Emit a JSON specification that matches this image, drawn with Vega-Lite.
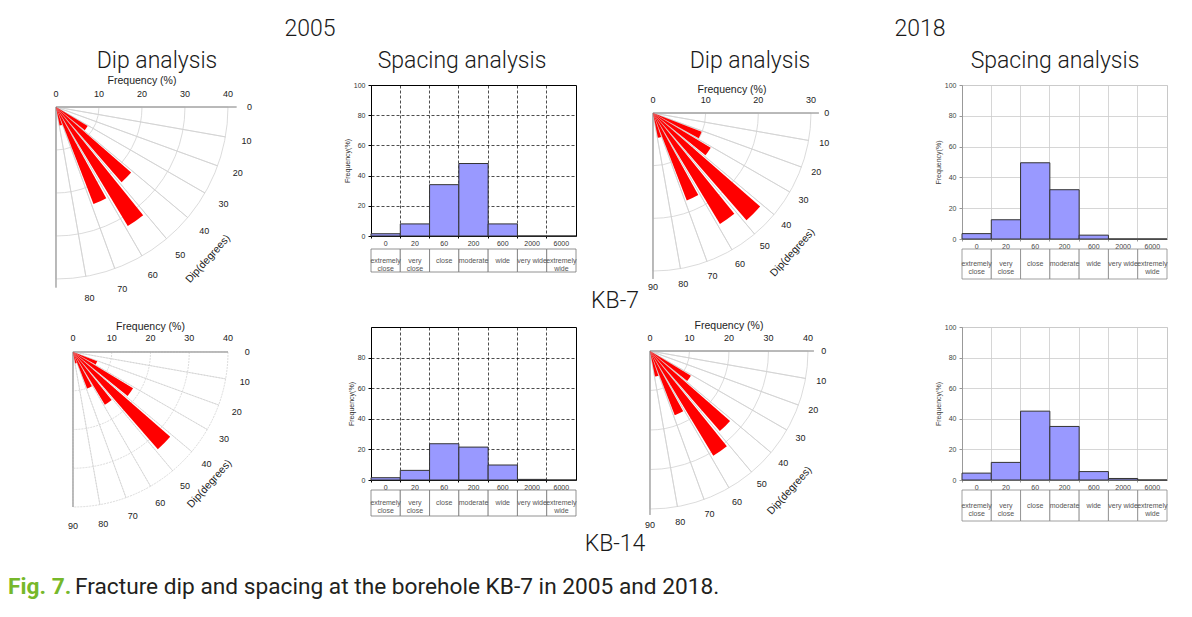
{
  "$schema": "https://vega.github.io/schema/vega-lite/v6.json",
  "padding": {"left": 8, "top": 18, "right": 0, "bottom": 0},
  "background": "white",
  "config": {
    "view": {"stroke": null},
    "text": {"font": "Liberation Sans"}
  },
  "datasets": {
    "dip05a": [
      {"dip_from": 30, "dip_to": 40, "freq": 8.6},
      {"dip_from": 40, "dip_to": 50, "freq": 23.2},
      {"dip_from": 50, "dip_to": 60, "freq": 32.3},
      {"dip_from": 60, "dip_to": 70, "freq": 24.2},
      {"dip_from": 70, "dip_to": 80, "freq": 4.4}
    ],
    "dip18a": [
      {"dip_from": 20, "dip_to": 30, "freq": 9.9},
      {"dip_from": 30, "dip_to": 40, "freq": 12.8},
      {"dip_from": 40, "dip_to": 50, "freq": 27.0},
      {"dip_from": 50, "dip_to": 60, "freq": 24.6},
      {"dip_from": 60, "dip_to": 70, "freq": 17.8},
      {"dip_from": 70, "dip_to": 80, "freq": 4.8}
    ],
    "dip05b": [
      {"dip_from": 20, "dip_to": 30, "freq": 6.7},
      {"dip_from": 30, "dip_to": 40, "freq": 18.1},
      {"dip_from": 40, "dip_to": 50, "freq": 33.3},
      {"dip_from": 50, "dip_to": 60, "freq": 15.9},
      {"dip_from": 60, "dip_to": 70, "freq": 10.1},
      {"dip_from": 70, "dip_to": 80, "freq": 3.0}
    ],
    "dip18b": [
      {"dip_from": 30, "dip_to": 40, "freq": 12.1},
      {"dip_from": 40, "dip_to": 50, "freq": 26.9},
      {"dip_from": 50, "dip_to": 60, "freq": 31.0},
      {"dip_from": 60, "dip_to": 70, "freq": 17.4},
      {"dip_from": 70, "dip_to": 80, "freq": 6.6}
    ],
    "sp05a": [
      {"class": "extremely close", "label": "extremely\nclose", "freq": 1.5},
      {"class": "very close", "label": "very\nclose", "freq": 8},
      {"class": "close", "label": "close", "freq": 34},
      {"class": "moderate", "label": "moderate", "freq": 48},
      {"class": "wide", "label": "wide", "freq": 8},
      {"class": "very wide", "label": "very wide", "freq": 0},
      {"class": "extremely wide", "label": "extremely\nwide", "freq": 0}
    ],
    "sp18a": [
      {"class": "extremely close", "label": "extremely\nclose", "freq": 3.5},
      {"class": "very close", "label": "very\nclose", "freq": 12.5},
      {"class": "close", "label": "close", "freq": 49.5},
      {"class": "moderate", "label": "moderate", "freq": 32},
      {"class": "wide", "label": "wide", "freq": 2.5},
      {"class": "very wide", "label": "very wide", "freq": 0},
      {"class": "extremely wide", "label": "extremely\nwide", "freq": 0}
    ],
    "sp05b": [
      {"class": "extremely close", "label": "extremely\nclose", "freq": 1.5},
      {"class": "very close", "label": "very\nclose", "freq": 6.3},
      {"class": "close", "label": "close", "freq": 23.7},
      {"class": "moderate", "label": "moderate", "freq": 21.5},
      {"class": "wide", "label": "wide", "freq": 9.8},
      {"class": "very wide", "label": "very wide", "freq": 0.4},
      {"class": "extremely wide", "label": "extremely\nwide", "freq": 0}
    ],
    "sp18b": [
      {"class": "extremely close", "label": "extremely\nclose", "freq": 4.5},
      {"class": "very close", "label": "very\nclose", "freq": 11.5},
      {"class": "close", "label": "close", "freq": 45},
      {"class": "moderate", "label": "moderate", "freq": 35},
      {"class": "wide", "label": "wide", "freq": 5.5},
      {"class": "very wide", "label": "very wide", "freq": 1},
      {"class": "extremely wide", "label": "extremely\nwide", "freq": 0}
    ],
    "rings40": [{"r": 10}, {"r": 20}, {"r": 30}, {"r": 40}],
    "rings30": [{"r": 10}, {"r": 20}, {"r": 30}],
    "ticks40": [{"r": 0}, {"r": 10}, {"r": 20}, {"r": 30}, {"r": 40}],
    "ticks30": [{"r": 0}, {"r": 10}, {"r": 20}, {"r": 30}],
    "radials": [{"d": 10}, {"d": 20}, {"d": 30}, {"d": 40}, {"d": 50}, {"d": 60}, {"d": 70}, {"d": 80}],
    "axeslines": [{"d": 0}, {"d": 90}],
    "diplabels": [{"d": 0}, {"d": 10}, {"d": 20}, {"d": 30}, {"d": 40}, {"d": 50}, {"d": 60}, {"d": 70}, {"d": 80}, {"d": 90}],
    "diplabels80": [{"d": 0}, {"d": 10}, {"d": 20}, {"d": 30}, {"d": 40}, {"d": 50}, {"d": 60}, {"d": 70}, {"d": 80}],
    "freqtitle": [{"t": "Frequency (%)"}],
    "diptitle": [{"t": "Dip(degrees)"}]
  },
  "bounds": "flush",
  "columns": 4,
  "spacing": {"row": 10, "column": 10},
  "concat": [
    {
      "width": 353, "height": 154,
      "encoding": {
        "x": {"datum": 0, "type": "quantitative", "scale": {"domain": [-11.16, 70.93], "nice": false, "zero": false}, "axis": null},
        "y": {"datum": 0, "type": "quantitative", "scale": {"domain": [-5.12, 30.70], "nice": false, "zero": false, "reverse": true}, "axis": null}
      },
      "layer": [
        {"data": {"name": "rings40"}, "mark": {"type": "arc", "filled": false, "stroke": "#d2d2d2", "strokeWidth": 0.8},
         "encoding": {"theta": {"datum": 0, "type": "quantitative", "scale": {"domain": [0, 90], "range": [1.5707963, 3.1415927]}}, "theta2": {"datum": 90},
           "radius": {"field": "r", "type": "quantitative", "scale": {"type": "linear", "domain": [0, 40], "range": [0, 172], "nice": false}}, "radius2": {"datum": 0}}},
        {"data": {"name": "radials"}, "mark": {"type": "arc", "filled": false, "stroke": "#d2d2d2", "strokeWidth": 0.8},
         "encoding": {"theta": {"field": "d", "type": "quantitative", "stack": null, "scale": {"domain": [0, 90], "range": [1.5707963, 3.1415927]}}, "theta2": {"field": "d"},
           "radius": {"datum": 40, "type": "quantitative", "scale": {"type": "linear", "domain": [0, 40], "range": [0, 172], "nice": false}}, "radius2": {"datum": 0}}},
        {"data": {"name": "axeslines"}, "mark": {"type": "arc", "filled": false, "stroke": "#a8a8a8", "strokeWidth": 1},
         "encoding": {"theta": {"field": "d", "type": "quantitative", "stack": null, "scale": {"domain": [0, 90], "range": [1.5707963, 3.1415927]}}, "theta2": {"field": "d"},
           "radius": {"datum": 42, "type": "quantitative", "scale": {"type": "linear", "domain": [0, 40], "range": [0, 172], "nice": false}}, "radius2": {"datum": 0}}},
        {"data": {"name": "dip05a"}, "mark": {"type": "arc", "color": "#ff0000", "padAngle": 0.039},
         "encoding": {"theta": {"field": "dip_from", "type": "quantitative", "stack": null, "scale": {"domain": [0, 90], "range": [1.5707963, 3.1415927]}}, "theta2": {"field": "dip_to"},
           "radius": {"field": "freq", "type": "quantitative", "scale": {"type": "linear", "domain": [0, 40], "range": [0, 172], "nice": false}}, "radius2": {"datum": 0}}},
        {"data": {"name": "ticks40"}, "mark": {"type": "text", "dy": -13, "fontSize": 9, "color": "#222"},
         "encoding": {"theta": {"datum": 0, "type": "quantitative", "scale": {"domain": [0, 90], "range": [1.5707963, 3.1415927]}},
           "radius": {"field": "r", "type": "quantitative", "scale": {"type": "linear", "domain": [0, 40], "range": [0, 172], "nice": false}}, "text": {"field": "r", "type": "quantitative"}}},
        {"data": {"name": "freqtitle"}, "mark": {"type": "text", "dy": -26, "fontSize": 10.5, "color": "#222"},
         "encoding": {"theta": {"datum": 0, "type": "quantitative", "scale": {"domain": [0, 90], "range": [1.5707963, 3.1415927]}},
           "radius": {"datum": 20, "type": "quantitative", "scale": {"type": "linear", "domain": [0, 40], "range": [0, 172], "nice": false}}, "text": {"field": "t"}}},
        {"data": {"name": "diplabels80"}, "mark": {"type": "text", "fontSize": 9, "color": "#222"},
         "encoding": {"theta": {"field": "d", "type": "quantitative", "scale": {"domain": [0, 90], "range": [1.5707963, 3.1415927]}},
           "radius": {"datum": 45, "type": "quantitative", "scale": {"type": "linear", "domain": [0, 40], "range": [0, 172], "nice": false}}, "text": {"field": "d", "type": "quantitative"}}},
        {"data": {"name": "diptitle"}, "mark": {"type": "text", "fontSize": 10.5, "angle": -48, "color": "#222"},
         "encoding": {"theta": {"datum": 45, "type": "quantitative", "scale": {"domain": [0, 90], "range": [1.5707963, 3.1415927]}},
           "radius": {"datum": 50, "type": "quantitative", "scale": {"type": "linear", "domain": [0, 40], "range": [0, 172], "nice": false}}, "text": {"field": "t"}}},
        {"data": {"values": [{"t": "2005"}]}, "mark": {"type": "text", "font": "Roboto", "fontWeight": 300, "fontSize": 23, "color": "#1a1a1a", "baseline": "middle"},
         "encoding": {"text": {"field": "t"}, "x": {"datum": 59.07}, "y": {"datum": -18.14}}},
        {"data": {"values": [{"t": "Dip analysis"}]}, "mark": {"type": "text", "font": "Roboto", "fontWeight": 300, "fontSize": 23, "color": "#1a1a1a", "baseline": "middle"},
         "encoding": {"text": {"field": "t"}, "x": {"datum": 23.49}, "y": {"datum": -10.7}}},
        {"data": {"values": [{"t": "Spacing analysis"}]}, "mark": {"type": "text", "font": "Roboto", "fontWeight": 300, "fontSize": 23, "color": "#1a1a1a", "baseline": "middle"},
         "encoding": {"text": {"field": "t"}, "x": {"datum": 94.42}, "y": {"datum": -10.7}}}
      ]
    },
    {
      "width": 205, "height": 151,
      "view": {"stroke": "#000", "strokeWidth": 1},
      "data": {"name": "sp05a"},
      "mark": {"type": "bar", "fill": "#9999ff", "stroke": "#333", "strokeWidth": 1},
      "encoding": {
        "x": {"field": "class", "type": "nominal", "scale": {"domain": ["extremely close", "very close", "close", "moderate", "wide", "very wide", "extremely wide"], "paddingInner": 0, "paddingOuter": 0},
          "axis": {"bandPosition": 0, "labelExpr": "['0','20','60','200','600','2000','6000'][indexof(['extremely close','very close','close','moderate','wide','very wide','extremely wide'], datum.value)]", "labelAngle": 0, "labelFontSize": 7, "labelColor": "#333", "labelFont": "Liberation Sans", "labelPadding": 1, "tickSize": 2, "tickColor": "#000", "domain": false, "grid": true, "gridColor": "#000", "gridDash": [3, 2], "gridWidth": 0.7, "title": null}},
        "y": {"field": "freq", "type": "quantitative", "scale": {"domain": [0, 100], "nice": false},
          "axis": {"values": [0, 20, 40, 60, 80, 100], "labelFontSize": 7, "labelColor": "#333", "labelFont": "Liberation Sans", "labelPadding": 3, "tickSize": 3, "tickColor": "#000", "domain": false, "grid": true, "gridColor": "#000", "gridDash": [3, 2], "gridWidth": 0.7, "title": "Frequency(%)", "titleFontSize": 7, "titleFontWeight": "normal", "titleColor": "#333", "titleFont": "Liberation Sans", "titlePadding": 3}}
      }
    },
    {
      "width": 366, "height": 154,
      "encoding": {
        "x": {"datum": 0, "type": "quantitative", "scale": {"domain": [-12.72, 56.77], "nice": false, "zero": false}, "axis": null},
        "y": {"datum": 0, "type": "quantitative", "scale": {"domain": [-5.32, 23.92], "nice": false, "zero": false, "reverse": true}, "axis": null}
      },
      "layer": [
        {"data": {"name": "rings30"}, "mark": {"type": "arc", "filled": false, "stroke": "#d2d2d2", "strokeWidth": 0.8},
         "encoding": {"theta": {"datum": 0, "type": "quantitative", "scale": {"domain": [0, 90], "range": [1.5707963, 3.1415927]}}, "theta2": {"datum": 90},
           "radius": {"field": "r", "type": "quantitative", "scale": {"type": "linear", "domain": [0, 30], "range": [0, 158], "nice": false}}, "radius2": {"datum": 0}}},
        {"data": {"name": "radials"}, "mark": {"type": "arc", "filled": false, "stroke": "#d2d2d2", "strokeWidth": 0.8},
         "encoding": {"theta": {"field": "d", "type": "quantitative", "stack": null, "scale": {"domain": [0, 90], "range": [1.5707963, 3.1415927]}}, "theta2": {"field": "d"},
           "radius": {"datum": 30, "type": "quantitative", "scale": {"type": "linear", "domain": [0, 30], "range": [0, 158], "nice": false}}, "radius2": {"datum": 0}}},
        {"data": {"name": "axeslines"}, "mark": {"type": "arc", "filled": false, "stroke": "#a8a8a8", "strokeWidth": 1},
         "encoding": {"theta": {"field": "d", "type": "quantitative", "stack": null, "scale": {"domain": [0, 90], "range": [1.5707963, 3.1415927]}}, "theta2": {"field": "d"},
           "radius": {"datum": 31.5, "type": "quantitative", "scale": {"type": "linear", "domain": [0, 30], "range": [0, 158], "nice": false}}, "radius2": {"datum": 0}}},
        {"data": {"name": "dip18a"}, "mark": {"type": "arc", "color": "#ff0000", "padAngle": 0.039},
         "encoding": {"theta": {"field": "dip_from", "type": "quantitative", "stack": null, "scale": {"domain": [0, 90], "range": [1.5707963, 3.1415927]}}, "theta2": {"field": "dip_to"},
           "radius": {"field": "freq", "type": "quantitative", "scale": {"type": "linear", "domain": [0, 30], "range": [0, 158], "nice": false}}, "radius2": {"datum": 0}}},
        {"data": {"name": "ticks30"}, "mark": {"type": "text", "dy": -13, "fontSize": 9, "color": "#222"},
         "encoding": {"theta": {"datum": 0, "type": "quantitative", "scale": {"domain": [0, 90], "range": [1.5707963, 3.1415927]}},
           "radius": {"field": "r", "type": "quantitative", "scale": {"type": "linear", "domain": [0, 30], "range": [0, 158], "nice": false}}, "text": {"field": "r", "type": "quantitative"}}},
        {"data": {"name": "freqtitle"}, "mark": {"type": "text", "dy": -23, "fontSize": 10.5, "color": "#222"},
         "encoding": {"theta": {"datum": 0, "type": "quantitative", "scale": {"domain": [0, 90], "range": [1.5707963, 3.1415927]}},
           "radius": {"datum": 15, "type": "quantitative", "scale": {"type": "linear", "domain": [0, 30], "range": [0, 158], "nice": false}}, "text": {"field": "t"}}},
        {"data": {"name": "diplabels"}, "mark": {"type": "text", "fontSize": 9, "color": "#222"},
         "encoding": {"theta": {"field": "d", "type": "quantitative", "scale": {"domain": [0, 90], "range": [1.5707963, 3.1415927]}},
           "radius": {"datum": 33, "type": "quantitative", "scale": {"type": "linear", "domain": [0, 30], "range": [0, 158], "nice": false}}, "text": {"field": "d", "type": "quantitative"}}},
        {"data": {"name": "diptitle"}, "mark": {"type": "text", "fontSize": 10.5, "angle": -48, "color": "#222"},
         "encoding": {"theta": {"datum": 45, "type": "quantitative", "scale": {"domain": [0, 90], "range": [1.5707963, 3.1415927]}},
           "radius": {"datum": 37.5, "type": "quantitative", "scale": {"type": "linear", "domain": [0, 30], "range": [0, 158], "nice": false}}, "text": {"field": "t"}}},
        {"data": {"values": [{"t": "2018"}]}, "mark": {"type": "text", "font": "Roboto", "fontWeight": 300, "fontSize": 23, "color": "#1a1a1a", "baseline": "middle"},
         "encoding": {"text": {"field": "t"}, "x": {"datum": 50.69}, "y": {"datum": -15.95}}},
        {"data": {"values": [{"t": "Dip analysis"}]}, "mark": {"type": "text", "font": "Roboto", "fontWeight": 300, "fontSize": 23, "color": "#1a1a1a", "baseline": "middle"},
         "encoding": {"text": {"field": "t"}, "x": {"datum": 18.42}, "y": {"datum": -9.87}}},
        {"data": {"values": [{"t": "Spacing analysis"}]}, "mark": {"type": "text", "font": "Roboto", "fontWeight": 300, "fontSize": 23, "color": "#1a1a1a", "baseline": "middle"},
         "encoding": {"text": {"field": "t"}, "x": {"datum": 76.32}, "y": {"datum": -9.87}}},
        {"data": {"values": [{"t": "KB-7"}]}, "mark": {"type": "text", "font": "Roboto", "fontWeight": 300, "fontSize": 23, "color": "#1a1a1a", "baseline": "middle"},
         "encoding": {"text": {"field": "t"}, "x": {"datum": -7.21}, "y": {"datum": 35.69}}}
      ]
    },
    {
      "width": 205, "height": 154,
      "view": {"stroke": "#c8c8c8", "strokeWidth": 1},
      "data": {"name": "sp18a"},
      "mark": {"type": "bar", "fill": "#9999ff", "stroke": "#333", "strokeWidth": 1},
      "encoding": {
        "x": {"field": "class", "type": "nominal", "scale": {"domain": ["extremely close", "very close", "close", "moderate", "wide", "very wide", "extremely wide"], "paddingInner": 0, "paddingOuter": 0},
          "axis": {"bandPosition": 0, "labelExpr": "['0','20','60','200','600','2000','6000'][indexof(['extremely close','very close','close','moderate','wide','very wide','extremely wide'], datum.value)]", "labelAngle": 0, "labelFontSize": 7, "labelColor": "#444", "labelFont": "Liberation Sans", "labelPadding": 1, "tickSize": 2, "tickColor": "#999", "domain": true, "domainColor": "#999", "grid": true, "gridColor": "#cccccc", "gridWidth": 0.8, "title": null}},
        "y": {"field": "freq", "type": "quantitative", "scale": {"domain": [0, 100], "nice": false},
          "axis": {"values": [0, 20, 40, 60, 80, 100], "labelFontSize": 7, "labelColor": "#444", "labelFont": "Liberation Sans", "labelPadding": 3, "tickSize": 3, "tickColor": "#999", "domain": true, "domainColor": "#999", "grid": true, "gridColor": "#cccccc", "gridWidth": 0.8, "title": "Frequency(%)", "titleFontSize": 7, "titleFontWeight": "normal", "titleColor": "#444", "titleFont": "Liberation Sans", "titlePadding": 3}}
      }
    },
    {"width": 353, "height": 68, "data": {"values": []}, "mark": "text"},
    {
      "width": 205, "height": 23,
      "data": {"name": "sp05a"},
      "layer": [
        {"mark": {"type": "rect", "fill": "white", "stroke": "#777", "strokeWidth": 0.8},
         "encoding": {"x": {"field": "class", "type": "nominal", "scale": {"domain": ["extremely close", "very close", "close", "moderate", "wide", "very wide", "extremely wide"], "paddingInner": 0, "paddingOuter": 0}, "axis": null}}},
        {"mark": {"type": "text", "fontSize": 7, "color": "#555", "lineBreak": "\n", "lineHeight": 8},
         "encoding": {"x": {"field": "class", "type": "nominal", "axis": null}, "text": {"field": "label"}}}
      ]
    },
    {"width": 366, "height": 68, "data": {"values": []}, "mark": "text"},
    {
      "width": 205, "height": 30,
      "data": {"name": "sp18a"},
      "layer": [
        {"mark": {"type": "rect", "fill": "white", "stroke": "#888", "strokeWidth": 0.8},
         "encoding": {"x": {"field": "class", "type": "nominal", "scale": {"domain": ["extremely close", "very close", "close", "moderate", "wide", "very wide", "extremely wide"], "paddingInner": 0, "paddingOuter": 0}, "axis": null}}},
        {"mark": {"type": "text", "fontSize": 7, "color": "#555", "lineBreak": "\n", "lineHeight": 8},
         "encoding": {"x": {"field": "class", "type": "nominal", "axis": null}, "text": {"field": "label"}}}
      ]
    },
    {
      "width": 353, "height": 153,
      "encoding": {
        "x": {"datum": 0, "type": "quantitative", "scale": {"domain": [-16.77, 74.32], "nice": false, "zero": false}, "axis": null},
        "y": {"datum": 0, "type": "quantitative", "scale": {"domain": [-6.45, 33.03], "nice": false, "zero": false, "reverse": true}, "axis": null}
      },
      "layer": [
        {"data": {"name": "rings40"}, "mark": {"type": "arc", "filled": false, "stroke": "#d2d2d2", "strokeWidth": 0.8, "strokeDash": [2, 1]},
         "encoding": {"theta": {"datum": 0, "type": "quantitative", "scale": {"domain": [0, 90], "range": [1.5707963, 3.1415927]}}, "theta2": {"datum": 90},
           "radius": {"field": "r", "type": "quantitative", "scale": {"type": "linear", "domain": [0, 40], "range": [0, 155], "nice": false}}, "radius2": {"datum": 0}}},
        {"data": {"name": "radials"}, "mark": {"type": "arc", "filled": false, "stroke": "#d2d2d2", "strokeWidth": 0.8, "strokeDash": [2, 1]},
         "encoding": {"theta": {"field": "d", "type": "quantitative", "stack": null, "scale": {"domain": [0, 90], "range": [1.5707963, 3.1415927]}}, "theta2": {"field": "d"},
           "radius": {"datum": 40, "type": "quantitative", "scale": {"type": "linear", "domain": [0, 40], "range": [0, 155], "nice": false}}, "radius2": {"datum": 0}}},
        {"data": {"name": "axeslines"}, "mark": {"type": "arc", "filled": false, "stroke": "#a8a8a8", "strokeWidth": 1},
         "encoding": {"theta": {"field": "d", "type": "quantitative", "stack": null, "scale": {"domain": [0, 90], "range": [1.5707963, 3.1415927]}}, "theta2": {"field": "d"},
           "radius": {"datum": 40, "type": "quantitative", "scale": {"type": "linear", "domain": [0, 40], "range": [0, 155], "nice": false}}, "radius2": {"datum": 0}}},
        {"data": {"name": "dip05b"}, "mark": {"type": "arc", "color": "#ff0000", "padAngle": 0.039},
         "encoding": {"theta": {"field": "dip_from", "type": "quantitative", "stack": null, "scale": {"domain": [0, 90], "range": [1.5707963, 3.1415927]}}, "theta2": {"field": "dip_to"},
           "radius": {"field": "freq", "type": "quantitative", "scale": {"type": "linear", "domain": [0, 40], "range": [0, 155], "nice": false}}, "radius2": {"datum": 0}}},
        {"data": {"name": "ticks40"}, "mark": {"type": "text", "dy": -14, "fontSize": 9, "color": "#222"},
         "encoding": {"theta": {"datum": 0, "type": "quantitative", "scale": {"domain": [0, 90], "range": [1.5707963, 3.1415927]}},
           "radius": {"field": "r", "type": "quantitative", "scale": {"type": "linear", "domain": [0, 40], "range": [0, 155], "nice": false}}, "text": {"field": "r", "type": "quantitative"}}},
        {"data": {"name": "freqtitle"}, "mark": {"type": "text", "dy": -25, "fontSize": 10.5, "color": "#222"},
         "encoding": {"theta": {"datum": 0, "type": "quantitative", "scale": {"domain": [0, 90], "range": [1.5707963, 3.1415927]}},
           "radius": {"datum": 20, "type": "quantitative", "scale": {"type": "linear", "domain": [0, 40], "range": [0, 155], "nice": false}}, "text": {"field": "t"}}},
        {"data": {"name": "diplabels"}, "mark": {"type": "text", "fontSize": 9, "color": "#222"},
         "encoding": {"theta": {"field": "d", "type": "quantitative", "scale": {"domain": [0, 90], "range": [1.5707963, 3.1415927]}},
           "radius": {"datum": 45, "type": "quantitative", "scale": {"type": "linear", "domain": [0, 40], "range": [0, 155], "nice": false}}, "text": {"field": "d", "type": "quantitative"}}},
        {"data": {"name": "diptitle"}, "mark": {"type": "text", "fontSize": 10.5, "angle": -48, "color": "#222"},
         "encoding": {"theta": {"datum": 44, "type": "quantitative", "scale": {"domain": [0, 90], "range": [1.5707963, 3.1415927]}},
           "radius": {"datum": 49, "type": "quantitative", "scale": {"type": "linear", "domain": [0, 40], "range": [0, 155], "nice": false}}, "text": {"field": "t"}}},
        {"data": {"values": [{"t": "Fig. 7."}]}, "mark": {"type": "text", "align": "left", "baseline": "middle", "font": "Roboto", "fontWeight": "bold", "fontSize": 22.7, "color": "#76b82a"},
         "encoding": {"text": {"field": "t"}, "x": {"datum": -16.77}, "y": {"datum": 60.65}}},
        {"data": {"values": [{"t": "Fracture dip and spacing at the borehole KB-7 in 2005 and 2018."}]}, "mark": {"type": "text", "align": "left", "baseline": "middle", "dx": 67, "font": "Roboto", "fontSize": 22.7, "color": "#231f20"},
         "encoding": {"text": {"field": "t"}, "x": {"datum": -16.77}, "y": {"datum": 60.65}}}
      ]
    },
    {
      "width": 205, "height": 153,
      "view": {"stroke": "#000", "strokeWidth": 1},
      "data": {"name": "sp05b"},
      "mark": {"type": "bar", "fill": "#9999ff", "stroke": "#333", "strokeWidth": 1},
      "encoding": {
        "x": {"field": "class", "type": "nominal", "scale": {"domain": ["extremely close", "very close", "close", "moderate", "wide", "very wide", "extremely wide"], "paddingInner": 0, "paddingOuter": 0},
          "axis": {"bandPosition": 0, "labelExpr": "['0','20','60','200','600','2000','6000'][indexof(['extremely close','very close','close','moderate','wide','very wide','extremely wide'], datum.value)]", "labelAngle": 0, "labelFontSize": 7, "labelColor": "#333", "labelFont": "Liberation Sans", "labelPadding": 1, "tickSize": 2, "tickColor": "#000", "domain": false, "grid": true, "gridColor": "#000", "gridDash": [3, 2], "gridWidth": 0.7, "title": null}},
        "y": {"field": "freq", "type": "quantitative", "scale": {"domain": [0, 100], "nice": false},
          "axis": {"values": [0, 20, 40, 60, 80], "labelFontSize": 7, "labelColor": "#333", "labelFont": "Liberation Sans", "labelPadding": 3, "tickSize": 3, "tickColor": "#000", "domain": false, "grid": true, "gridColor": "#000", "gridDash": [3, 2], "gridWidth": 0.7, "title": "Frequency(%)", "titleFontSize": 7, "titleFontWeight": "normal", "titleColor": "#333", "titleFont": "Liberation Sans", "titlePadding": 3}}
      }
    },
    {
      "width": 366, "height": 153,
      "encoding": {
        "x": {"datum": 0, "type": "quantitative", "scale": {"domain": [-16.2, 76.46], "nice": false, "zero": false}, "axis": null},
        "y": {"datum": 0, "type": "quantitative", "scale": {"domain": [-6.08, 32.66], "nice": false, "zero": false, "reverse": true}, "axis": null}
      },
      "layer": [
        {"data": {"name": "rings40"}, "mark": {"type": "arc", "filled": false, "stroke": "#d2d2d2", "strokeWidth": 0.8},
         "encoding": {"theta": {"datum": 0, "type": "quantitative", "scale": {"domain": [0, 90], "range": [1.5707963, 3.1415927]}}, "theta2": {"datum": 90},
           "radius": {"field": "r", "type": "quantitative", "scale": {"type": "linear", "domain": [0, 40], "range": [0, 158], "nice": false}}, "radius2": {"datum": 0}}},
        {"data": {"name": "radials"}, "mark": {"type": "arc", "filled": false, "stroke": "#d2d2d2", "strokeWidth": 0.8},
         "encoding": {"theta": {"field": "d", "type": "quantitative", "stack": null, "scale": {"domain": [0, 90], "range": [1.5707963, 3.1415927]}}, "theta2": {"field": "d"},
           "radius": {"datum": 40, "type": "quantitative", "scale": {"type": "linear", "domain": [0, 40], "range": [0, 158], "nice": false}}, "radius2": {"datum": 0}}},
        {"data": {"name": "axeslines"}, "mark": {"type": "arc", "filled": false, "stroke": "#a8a8a8", "strokeWidth": 1},
         "encoding": {"theta": {"field": "d", "type": "quantitative", "stack": null, "scale": {"domain": [0, 90], "range": [1.5707963, 3.1415927]}}, "theta2": {"field": "d"},
           "radius": {"datum": 41.5, "type": "quantitative", "scale": {"type": "linear", "domain": [0, 40], "range": [0, 158], "nice": false}}, "radius2": {"datum": 0}}},
        {"data": {"name": "dip18b"}, "mark": {"type": "arc", "color": "#ff0000", "padAngle": 0.039},
         "encoding": {"theta": {"field": "dip_from", "type": "quantitative", "stack": null, "scale": {"domain": [0, 90], "range": [1.5707963, 3.1415927]}}, "theta2": {"field": "dip_to"},
           "radius": {"field": "freq", "type": "quantitative", "scale": {"type": "linear", "domain": [0, 40], "range": [0, 158], "nice": false}}, "radius2": {"datum": 0}}},
        {"data": {"name": "ticks40"}, "mark": {"type": "text", "dy": -13, "fontSize": 9, "color": "#222"},
         "encoding": {"theta": {"datum": 0, "type": "quantitative", "scale": {"domain": [0, 90], "range": [1.5707963, 3.1415927]}},
           "radius": {"field": "r", "type": "quantitative", "scale": {"type": "linear", "domain": [0, 40], "range": [0, 158], "nice": false}}, "text": {"field": "r", "type": "quantitative"}}},
        {"data": {"name": "freqtitle"}, "mark": {"type": "text", "dy": -25, "fontSize": 10.5, "color": "#222"},
         "encoding": {"theta": {"datum": 0, "type": "quantitative", "scale": {"domain": [0, 90], "range": [1.5707963, 3.1415927]}},
           "radius": {"datum": 20, "type": "quantitative", "scale": {"type": "linear", "domain": [0, 40], "range": [0, 158], "nice": false}}, "text": {"field": "t"}}},
        {"data": {"name": "diplabels"}, "mark": {"type": "text", "fontSize": 9, "color": "#222"},
         "encoding": {"theta": {"field": "d", "type": "quantitative", "scale": {"domain": [0, 90], "range": [1.5707963, 3.1415927]}},
           "radius": {"datum": 44, "type": "quantitative", "scale": {"type": "linear", "domain": [0, 40], "range": [0, 158], "nice": false}}, "text": {"field": "d", "type": "quantitative"}}},
        {"data": {"name": "diptitle"}, "mark": {"type": "text", "fontSize": 10.5, "angle": -48, "color": "#222"},
         "encoding": {"theta": {"datum": 45, "type": "quantitative", "scale": {"domain": [0, 90], "range": [1.5707963, 3.1415927]}},
           "radius": {"datum": 50, "type": "quantitative", "scale": {"type": "linear", "domain": [0, 40], "range": [0, 158], "nice": false}}, "text": {"field": "t"}}},
        {"data": {"values": [{"t": "KB-14"}]}, "mark": {"type": "text", "font": "Roboto", "fontWeight": 300, "fontSize": 23, "color": "#1a1a1a", "baseline": "middle"},
         "encoding": {"text": {"field": "t"}, "x": {"datum": -8.86}, "y": {"datum": 48.86}}}
      ]
    },
    {
      "width": 205, "height": 153,
      "view": {"stroke": "#c8c8c8", "strokeWidth": 1},
      "data": {"name": "sp18b"},
      "mark": {"type": "bar", "fill": "#9999ff", "stroke": "#333", "strokeWidth": 1},
      "encoding": {
        "x": {"field": "class", "type": "nominal", "scale": {"domain": ["extremely close", "very close", "close", "moderate", "wide", "very wide", "extremely wide"], "paddingInner": 0, "paddingOuter": 0},
          "axis": {"bandPosition": 0, "labelExpr": "['0','20','60','200','600','2000','6000'][indexof(['extremely close','very close','close','moderate','wide','very wide','extremely wide'], datum.value)]", "labelAngle": 0, "labelFontSize": 7, "labelColor": "#444", "labelFont": "Liberation Sans", "labelPadding": 1, "tickSize": 2, "tickColor": "#999", "domain": true, "domainColor": "#999", "grid": true, "gridColor": "#cccccc", "gridWidth": 0.8, "title": null}},
        "y": {"field": "freq", "type": "quantitative", "scale": {"domain": [0, 100], "nice": false},
          "axis": {"values": [0, 20, 40, 60, 80, 100], "labelFontSize": 7, "labelColor": "#444", "labelFont": "Liberation Sans", "labelPadding": 3, "tickSize": 3, "tickColor": "#999", "domain": true, "domainColor": "#999", "grid": true, "gridColor": "#cccccc", "gridWidth": 0.8, "title": "Frequency(%)", "titleFontSize": 7, "titleFontWeight": "normal", "titleColor": "#444", "titleFont": "Liberation Sans", "titlePadding": 3}}
      }
    },
    {"width": 353, "height": 31, "data": {"values": []}, "mark": "text"},
    {
      "width": 205, "height": 26,
      "data": {"name": "sp05b"},
      "layer": [
        {"mark": {"type": "rect", "fill": "white", "stroke": "#777", "strokeWidth": 0.8},
         "encoding": {"x": {"field": "class", "type": "nominal", "scale": {"domain": ["extremely close", "very close", "close", "moderate", "wide", "very wide", "extremely wide"], "paddingInner": 0, "paddingOuter": 0}, "axis": null}}},
        {"mark": {"type": "text", "fontSize": 7, "color": "#555", "lineBreak": "\n", "lineHeight": 8},
         "encoding": {"x": {"field": "class", "type": "nominal", "axis": null}, "text": {"field": "label"}}}
      ]
    },
    {"width": 366, "height": 31, "data": {"values": []}, "mark": "text"},
    {
      "width": 205, "height": 31,
      "data": {"name": "sp18b"},
      "layer": [
        {"mark": {"type": "rect", "fill": "white", "stroke": "#888", "strokeWidth": 0.8},
         "encoding": {"x": {"field": "class", "type": "nominal", "scale": {"domain": ["extremely close", "very close", "close", "moderate", "wide", "very wide", "extremely wide"], "paddingInner": 0, "paddingOuter": 0}, "axis": null}}},
        {"mark": {"type": "text", "fontSize": 7, "color": "#555", "lineBreak": "\n", "lineHeight": 8},
         "encoding": {"x": {"field": "class", "type": "nominal", "axis": null}, "text": {"field": "label"}}}
      ]
    }
  ]
}
